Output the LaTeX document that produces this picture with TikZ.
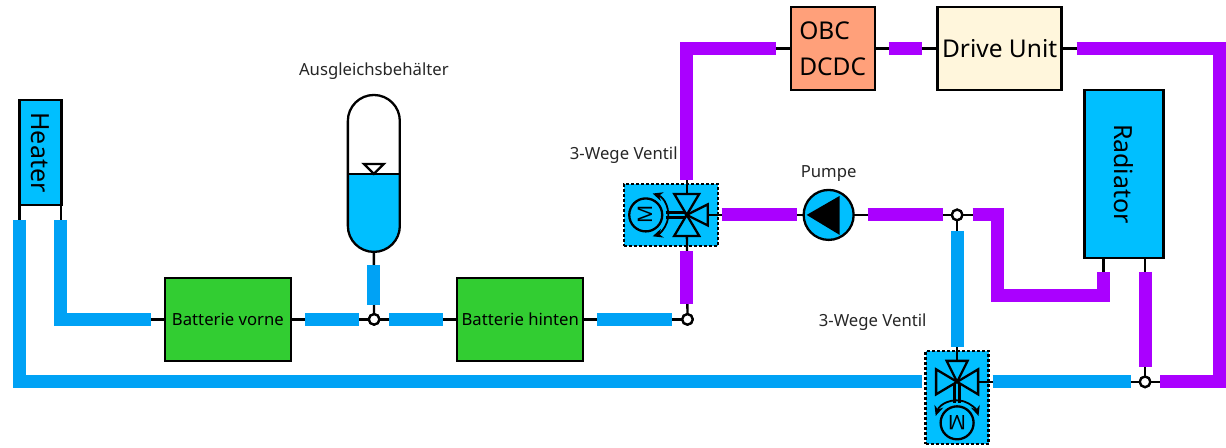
\documentclass[tikz,border=0pt]{standalone}
\usepackage{fontspec}
\setmainfont{Noto Sans}
\usepackage{xcolor}
\usepackage{tikz}
\usetikzlibrary{arrows.meta, positioning, calc}
\definecolor{mheat}{RGB}{0, 191, 255}
\definecolor{mblue}{RGB}{0, 162, 245}
\definecolor{mviolet}{RGB}{170, 0, 255}
\definecolor{mgreen}{RGB}{50, 205, 50}
\definecolor{morange}{RGB}{255, 160, 122}
\definecolor{mcream}{RGB}{255, 246, 220}

\begin{document}
\begin{tikzpicture}[
      x=1pt, y=-1pt,
      box/.style ={draw, line width=2.3pt, inner sep=0pt, outer sep=0pt, align=center},
      bbox/.style={box, fill=mheat, font=\fontsize{25}{29}\selectfont, rotate=-90},
      gbox/.style={box, fill=mgreen, minimum width=126pt, minimum height=83pt,
                   font=\fontsize{16.7}{20}\selectfont},
      tee/.style={draw, circle, line width=2.3pt, fill=white, inner sep=0pt, outer sep=0pt,
                  minimum size=10.5pt},
      sub/.style={font=\fontsize{16.7}{20}\selectfont, text=black!85},
      vbox/.style={draw, line width=2.3pt, densely dashed, fill=mheat, inner sep=0pt, outer sep=0pt},
      wire/.style={line width=2.3pt},
      pipeb/.style={line width=13pt, mblue},
      pipev/.style={line width=13pt, mviolet},
      vpart/.style={draw, line width=2.3pt, fill=mheat, line join=miter},
      turn/.style={line width=1.8pt, {Stealth[length=10pt,width=9pt]}-{Stealth[length=10pt,width=9pt]}},
      ventil/.pic={
        \draw[wire] (-21,-2.5) -- (0,-2.5) (-21,2.5) -- (0,2.5);
        \draw[vpart] (0,0) -- (-12.5,-21) -- (12.5,-21) -- cycle;
        \draw[vpart] (0,0) -- (-12.5,21) -- (12.5,21) -- cycle;
        \draw[vpart] (0,0) -- (21,-10.5) -- (21,10.5) -- cycle;
        \draw[vpart] (-41,0) circle (16.5);
        \node[font=\fontsize{20}{22}\selectfont, transform shape, rotate=90] (-motor) at (-41,0) {M};
        \draw[turn] ($(-41,0)+(-72:22.5)$) arc (-72:72:22.5);
      },
    ]
      % boxes
      \node[bbox, minimum width=105pt, minimum height=42pt] (heater) at (40.5,152.5) {Heater};
      \node[bbox, minimum width=168pt, minimum height=79pt] (radiator) at (1124.5,174) {Radiator};
      \node[gbox] (vorne) at (228,319.5) {Batterie vorne};
      \node[tee, right=78pt of vorne]  (teeA) {};
      \node[gbox, right=78pt of teeA]  (hinten) {Batterie hinten};
      \node[tee, right=99pt of hinten] (teeB) {};
      \node[box, fill=morange, minimum width=84pt, minimum height=83pt,
            font=\fontsize{24.5}{36}\selectfont, align=left] (obc) at (833,48.5) {OBC\\DCDC};
      \node[box, fill=mcream, minimum width=124pt, minimum height=83pt,
            font=\fontsize{24.5}{29}\selectfont, right=63pt of obc] (drive) {Drive Unit};
      \node[vbox, minimum width=94pt, minimum height=62pt] (ventilA) at (671,215) {};
      \node[vbox, minimum width=63pt, minimum height=93pt] (ventilB) at (957.5,397.5) {};
      \coordinate (kernA) at (687,215);
      \coordinate (kernB) at (957.5,382);
      \node[draw, circle, line width=2.3pt, fill=mheat, inner sep=0pt, outer sep=0pt,
            minimum size=50pt] (pumpe) at (829,215) {};
      \node[tee] (teeC) at (957.5,215) {};
      \node[tee] (teeD) at (1145.5,382) {};
      % tank
      \coordinate (tank) at (374,252);
      \fill[mheat] (348,174) -- (400,174) -- (400,226) arc (0:180:26) -- cycle;
      \draw[line width=2.3pt] (348,121) arc (180:360:26) -- (400,226) arc (0:180:26) -- cycle;
      \draw[line width=2.3pt] (348,174) -- (400,174);
      \draw[line width=2.3pt, fill=white] (374,174) -- (364,164) -- (384,164) -- cycle;
      \node[sub] (labtank) at (374,71.5) {Ausgleichsbehälter};
      \node[sub] (labventA) at (624,155) {3-Wege Ventil};
      \node[sub, above=5pt of pumpe] (labpumpe) {Pumpe};
      \node[sub] (labventB) at (873,322) {3-Wege Ventil};
      % wires
      \coordinate (heatL) at (19.5,220);
      \coordinate (heatR) at (61,220);
      \coordinate (radL) at (1104,272);
      \coordinate (radR) at (1145.5,272);
      \draw[wire] (19.5,205) -- (heatL);
      \draw[wire] (61,205) -- (heatR);
      \draw[wire] (1104,258) -- (radL);
      \draw[wire] (1145.5,258) -- (radR);
      \draw[wire] (heatR) |- (vorne);
      \draw[wire] (vorne) -- (teeA);
      \draw[wire] (teeA) -- (hinten);
      \draw[wire] (hinten) -- (teeB);
      \draw[wire] (tank) -- (teeA);
      \draw[wire] (teeB) -- (kernA);
      \draw[wire] (kernA) -- (pumpe);
      \draw[wire] (pumpe) -- (teeC);
      \draw[wire] (kernA) |- (obc);
      \draw[wire] (obc) -- (drive);
      \draw[wire] (teeC) -- (kernB);
      \draw[wire] (teeD) -- (radR);
      \draw[wire] (kernB) -- (teeD);
      \draw[wire] (teeC) -- (973,215);
      \draw[wire] (drive) -- (1077,48.5);
      \draw[wire] (teeD) -- (1160,382);
      % pipes
      \draw[pipeb] (heatL) -- (19.5,382) -- (922,382);
      \draw[pipeb] (heatR) -- (61,319.5) -- (151,319.5);
      \draw[pipeb] (305,319.5) -- (359,319.5);
      \draw[pipeb] (389,319.5) -- (443,319.5);
      \draw[pipeb] (374,265) -- (374,305);
      \draw[pipeb] (597,319.5) -- (672,319.5);
      \draw[pipeb] (957.5,231) -- (957.5,347);
      \draw[pipeb] (993,382) -- (1131,382);
      \draw[pipev] (687,304) -- (687,251);
      \draw[pipev] (687,180) -- (687,48.5) -- (776,48.5);
      \draw[pipev] (889,48.5) -- (922,48.5);
      \draw[pipev] (1077,48.5) -- (1220,48.5) -- (1220,382) -- (1160,382);
      \draw[pipev] (722,215) -- (797,215);
      \draw[pipev] (868,215) -- (943,215);
      \draw[pipev] (973,215) -- (998,215) -- (998,296) -- (1104,296) -- (radL);
      \draw[pipev] (radR) -- (1145.5,367);
      % redraw tees
      \node[tee] at (teeC) {};
      \node[tee] at (teeD) {};
      \node[tee] at (teeA) {};
      \node[tee] at (teeB) {};
      % valves, pump
      \pic (vA) at (kernA) {ventil};
      \pic[rotate=90] (vB) at (kernB) {ventil};
      \fill (807,215) -- (840,196) -- (840,235) -- cycle;
      \useasboundingbox (0,0) rectangle (1226,448);
    \end{tikzpicture}
\end{document}
